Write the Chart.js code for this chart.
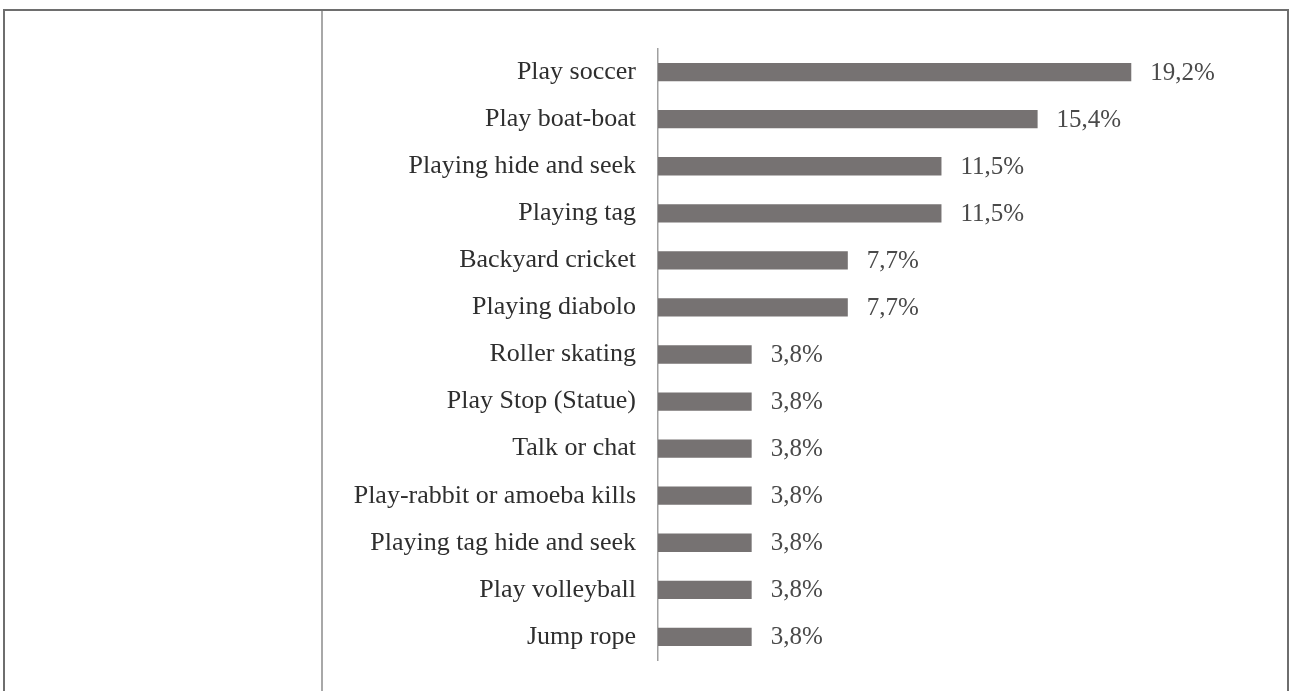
<!DOCTYPE html>
<html>
<head>
<meta charset="utf-8">
<script src="https://cdn.jsdelivr.net/npm/chart.js@4"></script>
<style>
	html, body { margin: 0; padding: 0; background: #fff; }
	body { width: 1292px; height: 691px; position: relative; overflow: hidden; }
	#frame {
		position: absolute; left: 3px; top: 9px; width: 1282px; height: 700px;
		border: 2px solid #6e6e6e; border-bottom: none;
	}
	#divider {
		position: absolute; left: 321px; top: 11px; width: 2px; height: 690px;
		background: #a8a8a8;
	}
	#wrap { position: absolute; left: 324px; top: 11px; width: 962px; height: 687px; }
</style>
</head>
<body>
<div id="frame"></div>
<div id="divider"></div>
<div id="wrap"><canvas id="chart"></canvas></div>
<script>
	const activities = [
		"Play soccer",
		"Play boat-boat",
		"Playing hide and seek",
		"Playing tag",
		"Backyard cricket",
		"Playing diabolo",
		"Roller skating",
		"Play Stop (Statue)",
		"Talk or chat",
		"Play-rabbit or amoeba kills",
		"Playing tag hide and seek",
		"Play volleyball",
		"Jump rope",
	];
	const shares = [19.2, 15.4, 11.5, 11.5, 7.7, 7.7, 3.8, 3.8, 3.8, 3.8, 3.8, 3.8, 3.8];

	const FONT = "'Liberation Serif', 'DejaVu Serif', serif";

	const valueLabels = {
		id: "valueLabels",
		afterDatasetsDraw(chart) {
			const ctx = chart.ctx;
			const meta = chart.getDatasetMeta(0);
			ctx.save();
			ctx.font = `25px ${FONT}`;
			ctx.fillStyle = "#4a4a4a";
			ctx.textAlign = "left";
			ctx.textBaseline = "middle";
			meta.data.forEach((bar, i) => {
				const text = `${shares[i].toFixed(1).replace(".", ",")}%`;
				ctx.fillText(text, bar.x + 19, bar.y + 1);
			});
			ctx.restore();
		},
	};

	new Chart(document.getElementById("chart"), {
		type: "bar",
		data: {
			labels: activities,
			datasets: [
				{
					data: shares,
					backgroundColor: "#767272",
					borderWidth: 0,
					categoryPercentage: 1,
					barPercentage: 0.39,
				},
			],
		},
		options: {
			indexAxis: "y",
			responsive: true,
			maintainAspectRatio: false,
			animation: false,
			layout: { padding: { top: 36, bottom: 26, left: 0, right: 135 } },
			plugins: {
				legend: { display: false },
				tooltip: { enabled: false },
			},
			scales: {
				x: {
					display: false,
					min: 0,
					max: 20,
				},
				y: {
					afterFit(scale) {
						scale.width = 334;
					},
					grid: { display: false, drawTicks: false },
					border: { display: true, color: "#a0a0a0", width: 1.5 },
					ticks: {
						padding: 22,
						color: "#2e2e2e",
						font: { family: FONT, size: 26 },
					},
				},
			},
		},
		plugins: [valueLabels],
	});
</script>
</body>
</html>
